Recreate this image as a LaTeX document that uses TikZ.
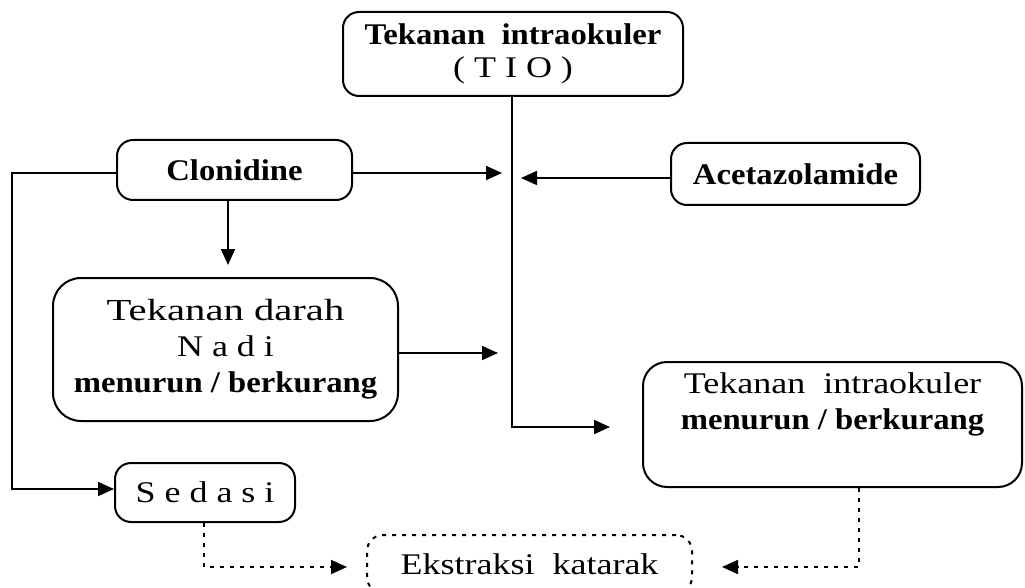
\documentclass[tikz,border=0pt]{standalone}
\usepackage{fontspec}
\setmainfont{Liberation Serif}
\newfontfamily\rg{Liberation Serif}[FakeStretch=1.2]
\newfontfamily\bd{Liberation Serif}[FakeStretch=1.09]
\usetikzlibrary{arrows.meta}
\tikzset{
  box/.style={draw, line width=2pt, rounded corners=16pt, inner sep=0pt, align=center,
    font=\fontsize{30}{36}\selectfont\rg},
  dbox/.style={box, dash pattern=on 4pt off 6pt},
  conn/.style={line width=1.8pt, -{Triangle[length=16pt,width=14pt]}},
  dconn/.style={conn, dash pattern=on 4pt off 6pt}
}
\newcommand{\bt}[1]{{\bd\bfseries #1}}
\begin{document}
\begin{tikzpicture}[x=1pt,y=-1pt]
\useasboundingbox (0,0) rectangle (1025,588);
\clip (0,0) rectangle (1025,588);
\node[box, minimum width=340pt, minimum height=84pt] (tio) at (513,54)
  {\bt{Tekanan~~intraokuler}\\[-3pt]( T I O )};
\node[box, minimum width=235pt, minimum height=60pt] (clon) at (234.5,170) {\bt{Clonidine}};
\node[box, minimum width=249pt, minimum height=62pt] (acet) at (795.5,174) {\bt{Acetazolamide}};
\node[box, rounded corners=28pt, minimum width=345pt, minimum height=143pt] (darah) at (225.5,349.5)
  {\scalebox{1.13}[1.02]{Tekanan darah}\\N a d i\\\bt{menurun / berkurang}};
\node[box, minimum width=180pt, minimum height=59pt] (sed) at (205,492.5) {S e d a s i};
\node[box, rounded corners=24pt, minimum width=379pt, minimum height=125pt] (right) at (832.5,424.5)
  {Tekanan~~intraokuler\\\bt{menurun / berkurang}\\\strut};
\node[dbox, minimum width=325pt, minimum height=58pt] (ekst) at (529.5,564) {Ekstraksi~~katarak};
% free ends
\coordinate (bend) at (512,427);
\coordinate (t1) at (610,427);
\coordinate (t2) at (502,173);
\coordinate (t3) at (521,178);
\coordinate (t4) at (498,353);
\coordinate (t5) at (228,265);
\coordinate (lc) at (12,173);
\coordinate (lb) at (12,489);
\coordinate (s1) at (204,567);
\coordinate (t6) at (347,567);
\coordinate (r1) at (859,567);
\coordinate (t7) at (722,567);
% connectors
\draw[conn] (tio.south -| bend) -- (bend) -- (t1);
\draw[conn] (clon.east |- t2) -- (t2);
\draw[conn] (acet.west |- t3) -- (t3);
\draw[conn] (darah.east |- t4) -- (t4);
\draw[conn] (clon.south -| t5) -- (t5);
\draw[conn] (clon.west |- lc) -- (lc) -- (lb) -- (sed.west |- lb);
\draw[dconn] (sed.south -| s1) -- (s1) -- (t6);
\draw[dconn] (right.south -| r1) -- (r1) -- (t7);
\end{tikzpicture}
\end{document}
